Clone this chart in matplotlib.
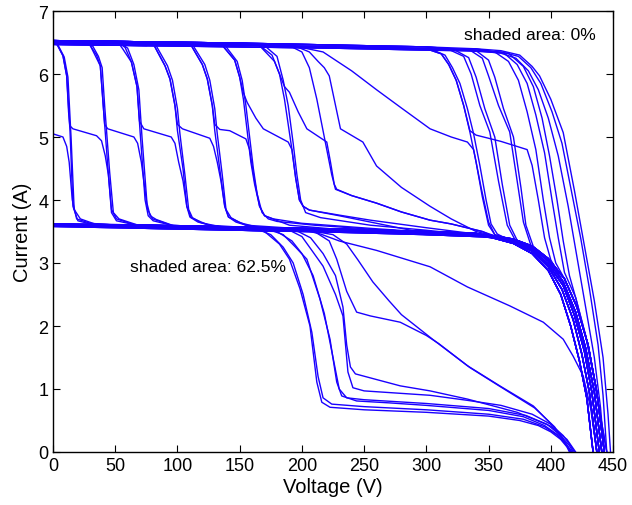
import matplotlib
matplotlib.use("Agg")
import matplotlib.pyplot as plt

plt.rcParams["font.family"] = ["Liberation Sans", "DejaVu Sans"]

# ---------------- I-V data (voltage in V, current in A) ----------------
# plateau of the fully lit modules (three neighbouring traces)
top_v = [0, 75, 150, 225, 300, 340]
top1_i = [6.53, 6.51, 6.49, 6.46, 6.43, 6.40]
top2_i = [6.50, 6.48, 6.46, 6.43, 6.40, 6.38]
top3_i = [6.47, 6.45, 6.43, 6.41, 6.38, 6.36]

# plateau of the shaded modules (three neighbouring traces)
mid_v = [0, 75, 150, 225, 300, 340]
mid1_i = [3.62, 3.60, 3.57, 3.54, 3.50, 3.47]
mid2_i = [3.60, 3.57, 3.54, 3.51, 3.47, 3.44]
mid3_i = [3.58, 3.55, 3.52, 3.49, 3.45, 3.42]

# knee and fall to open circuit of the shaded-plateau traces
tail_a_v = [355, 370, 385, 398, 408, 416, 423, 429, 434]
tail_a_i = [3.39, 3.31, 3.15, 2.88, 2.50, 2.00, 1.45, 0.85, 0.0]
tail_b_v = [355, 370, 385, 398, 409, 418, 425, 431, 437]
tail_b_i = [3.40, 3.33, 3.19, 2.94, 2.58, 2.10, 1.55, 0.95, 0.0]
tail_c_v = [355, 370, 385, 398, 410, 419, 427, 433, 439]
tail_c_i = [3.41, 3.35, 3.22, 2.98, 2.64, 2.17, 1.60, 0.95, 0.0]
tail_d_v = [355, 370, 385, 398, 410, 420, 428, 435, 441]
tail_d_i = [3.42, 3.37, 3.25, 3.03, 2.70, 2.22, 1.65, 0.95, 0.0]
tail_f_v = [355, 370, 385, 398, 411, 421, 430, 437, 443]
tail_f_i = [3.43, 3.38, 3.27, 3.07, 2.75, 2.30, 1.70, 0.95, 0.0]
tail_e_v = [420, 428, 435, 441, 445]
tail_e_i = [2.45, 1.85, 1.15, 0.45, 0.0]

# steps from the lit plateau down to the shaded plateau
d1_v = [0, 3, 8, 11, 13.7, 16, 20, 30]
d1_i = [6.52, 6.48, 6.29, 5.97, 5.08, 3.90, 3.67, 3.62]
d1b_v = [0, 4, 9, 12, 14.5, 17, 22, 35]
d1b_i = [6.49, 6.46, 6.27, 5.95, 5.00, 3.85, 3.70, 3.61]
d2_v = [24, 30, 35, 38, 40, 44, 47, 51, 65]
d2_i = [6.51, 6.45, 6.30, 6.13, 5.60, 4.54, 3.80, 3.67, 3.61]
d2b_v = [26, 32, 36.5, 39.5, 41.5, 45.5, 48.5, 53, 70]
d2b_i = [6.49, 6.44, 6.28, 6.10, 5.50, 4.45, 3.80, 3.70, 3.59]
d3_v = [52, 58, 63, 67.5, 70, 74, 76.5, 80.5, 95]
d3_i = [6.51, 6.42, 6.19, 5.80, 5.08, 4.00, 3.75, 3.67, 3.60]
d3b_v = [54, 60, 65, 69, 71.5, 75.5, 78, 83, 100]
d3b_i = [6.49, 6.41, 6.15, 5.75, 5.00, 3.95, 3.75, 3.69, 3.57]
d4_v = [80, 90, 94, 98, 100, 104.5, 107.5, 110, 116.5, 130]
d4_i = [6.50, 6.13, 5.92, 5.50, 5.10, 4.49, 3.90, 3.73, 3.65, 3.58]
d4b_v = [82, 92, 96, 100, 102, 106, 109, 112, 119, 140]
d4b_i = [6.48, 6.13, 5.90, 5.45, 5.05, 4.40, 3.85, 3.72, 3.64, 3.55]
d5_v = [110, 120, 124, 128, 130, 134, 138, 141, 147, 160]
d5_i = [6.49, 6.15, 5.92, 5.50, 5.10, 4.49, 3.90, 3.73, 3.65, 3.57]
d5b_v = [112, 122, 126, 130, 132, 136, 139, 143, 150, 170]
d5b_i = [6.47, 6.15, 5.90, 5.45, 5.05, 4.40, 3.85, 3.72, 3.64, 3.54]
d6_v = [135, 146, 150, 153, 156, 159, 162, 166, 170, 177, 200, 255, 300]
d6_i = [6.48, 6.22, 5.95, 5.60, 5.10, 4.60, 4.25, 3.90, 3.75, 3.70, 3.63, 3.55, 3.49]
d6b_v = [138, 148, 152, 155, 158, 161, 164, 168, 173, 180, 210, 260]
d6b_i = [6.46, 6.20, 5.90, 5.50, 5.00, 4.50, 4.10, 3.80, 3.70, 3.66, 3.60, 3.53]
d7_v = [165, 176, 182, 186, 189, 192, 195, 198, 201, 206, 230, 255, 300, 340]
d7_i = [6.47, 6.30, 6.00, 5.60, 5.20, 4.80, 4.35, 4.00, 3.90, 3.84, 3.76, 3.68, 3.56, 3.46]
d7b_v = [170, 180, 185, 189, 193, 196, 199, 203, 215, 255, 300]
d7b_i = [6.45, 6.28, 5.90, 5.50, 4.90, 4.40, 4.00, 3.80, 3.72, 3.60, 3.52]
d8_v = [190, 200, 206, 212, 220, 224, 227, 240, 260, 280, 303, 320, 345]
d8_i = [6.45, 6.35, 6.10, 5.60, 4.80, 4.40, 4.17, 4.07, 3.95, 3.81, 3.68, 3.62, 3.50]

# curves with an intermediate shelf near 5 A
s0_v = [0, 8, 11, 13, 15.5, 19, 30]
s0_i = [5.05, 5.00, 4.85, 4.60, 4.00, 3.70, 3.63]
s1_v = [0, 3, 8, 11, 12.5, 13.5, 16, 35, 39, 42, 44.5, 47, 51, 65]
s1_i = [6.52, 6.48, 6.29, 5.97, 5.40, 5.18, 5.13, 5.02, 4.94, 4.70, 4.40, 3.85, 3.70, 3.61]
s2_v = [24, 30, 38, 40, 41.5, 44, 65, 68, 71, 73, 76, 80, 95]
s2_i = [6.51, 6.45, 6.13, 5.60, 5.20, 5.13, 5.00, 4.90, 4.60, 4.30, 3.85, 3.70, 3.60]
s3_v = [52, 56, 63, 67.5, 69.5, 73, 95, 98, 101, 104.5, 107.5, 111, 125]
s3_i = [6.51, 6.40, 6.19, 5.80, 5.25, 5.13, 5.00, 4.90, 4.60, 4.30, 3.90, 3.72, 3.60]
s4_v = [80, 90, 94, 98, 100, 104, 126, 129, 132, 135, 138, 141, 155]
s4_i = [6.50, 6.13, 5.92, 5.50, 5.20, 5.13, 4.98, 4.85, 4.60, 4.30, 3.90, 3.73, 3.60]
s5_v = [110, 120, 124, 128, 130, 134, 142, 155, 158, 162, 166, 170, 190]
s5_i = [6.49, 6.15, 5.92, 5.50, 5.20, 5.12, 5.10, 4.97, 4.80, 4.30, 3.90, 3.75, 3.60]
s6_v = [135, 146, 150, 153, 156, 163, 169, 189, 192, 195, 198, 201, 206, 230]
s6_i = [6.48, 6.22, 5.95, 5.70, 5.55, 5.30, 5.13, 4.92, 4.80, 4.35, 4.00, 3.90, 3.84, 3.75]
s7_v = [165, 178, 186, 190, 197, 204, 220, 223, 226, 228, 240, 260, 280, 303, 320, 345]
s7_i = [6.47, 6.20, 5.80, 5.71, 5.40, 5.13, 4.92, 4.60, 4.25, 4.17, 4.07, 3.95, 3.81, 3.68, 3.62, 3.50]
s8_v = [180, 200, 217, 240, 260, 280, 303, 320, 333, 338, 344, 350, 355]
s8_i = [6.44, 6.42, 6.35, 6.05, 5.75, 5.46, 5.13, 5.00, 4.92, 4.80, 4.20, 3.65, 3.45]
s9_v = [195, 206, 213, 218, 222, 231, 249, 260, 280, 303, 320, 340]
s9_i = [6.44, 6.35, 6.20, 6.10, 5.97, 5.13, 4.92, 4.54, 4.20, 3.90, 3.70, 3.50]
s10_v = [300, 312, 318, 324, 330, 335, 340, 360, 381, 385, 390, 395, 400]
s10_i = [6.40, 6.32, 6.15, 5.90, 5.50, 5.10, 5.03, 4.93, 4.80, 4.55, 4.00, 3.40, 3.05]

# steps near the knee of the shaded plateau
r1_v = [300, 312, 318, 324, 330, 335, 340, 345, 350, 355]
r1_i = [6.40, 6.32, 6.15, 5.90, 5.50, 5.08, 4.60, 4.05, 3.60, 3.45]
r1b_v = [303, 315, 321, 327, 333, 338, 343, 348, 352, 357]
r1b_i = [6.40, 6.30, 6.10, 5.85, 5.45, 5.05, 4.55, 4.00, 3.62, 3.46]
r2_v = [318, 330, 336, 343, 351, 358, 365, 371]
r2_i = [6.39, 6.28, 6.00, 5.50, 5.08, 4.30, 3.60, 3.38]
r2b_v = [322, 334, 340, 347, 355, 361, 367, 373]
r2b_i = [6.39, 6.26, 5.95, 5.45, 5.00, 4.25, 3.60, 3.36]
r3_v = [335, 345, 350, 358, 367, 373, 378, 384]
r3_i = [6.38, 6.25, 5.97, 5.50, 5.08, 4.30, 3.65, 3.28]
r3b_v = [340, 350, 355, 362, 370, 376, 380, 386]
r3b_i = [6.37, 6.22, 5.95, 5.45, 5.00, 4.20, 3.60, 3.26]
r4_v = [355, 366, 374, 381, 388, 394, 399, 404]
r4_i = [6.35, 6.20, 5.90, 5.40, 4.80, 4.00, 3.40, 3.00]
r5_v = [362, 373, 381, 388, 395, 401, 406, 411]
r5_i = [6.34, 6.15, 5.85, 5.35, 4.75, 4.00, 3.40, 2.85]
r6_v = [366, 378, 386, 393, 399, 405, 410, 415]
r6_i = [6.33, 6.12, 5.80, 5.30, 4.70, 4.00, 3.35, 2.80]

# unshaded array: lit plateau straight down to open circuit
u1_v = [340, 360, 372, 382, 390, 398, 406, 414, 421, 428, 435, 440, 443]
u1_i = [6.37, 6.33, 6.25, 6.05, 5.75, 5.30, 4.70, 3.90, 3.10, 2.30, 1.50, 0.70, 0.0]
u2_v = [340, 360, 374, 384, 392, 401, 409, 417, 424, 431, 438, 442, 445]
u2_i = [6.38, 6.35, 6.28, 6.10, 5.85, 5.40, 4.90, 4.10, 3.40, 2.60, 1.70, 0.90, 0.0]
u3_v = [340, 360, 375, 385, 391, 400, 410, 419, 427.5, 435, 442, 446, 448]
u3_i = [6.40, 6.37, 6.30, 6.12, 5.97, 5.60, 5.07, 4.15, 3.22, 2.40, 1.50, 0.60, 0.0]

# 62.5 % shaded: shaded plateau falling to a low plateau
l1_v = [160, 170, 182, 190, 198.5, 206.5, 212, 216, 222.6, 250, 300, 350, 375, 390, 400, 408, 413, 415]
l1_i = [3.55, 3.50, 3.30, 3.06, 2.59, 2.00, 1.11, 0.79, 0.71, 0.67, 0.63, 0.57, 0.50, 0.42, 0.32, 0.20, 0.08, 0.0]
l1b_v = [165, 175, 185, 193, 201, 208, 213, 217, 224, 250, 300, 350, 378, 395, 405, 412, 416]
l1b_i = [3.53, 3.45, 3.25, 3.00, 2.50, 1.90, 1.20, 0.86, 0.76, 0.72, 0.67, 0.60, 0.52, 0.40, 0.27, 0.12, 0.0]
l2_v = [175, 185, 195, 204, 214.5, 222.6, 228, 232, 244, 270, 300, 350, 378, 395, 405, 412, 417]
l2_i = [3.52, 3.45, 3.25, 3.06, 2.43, 1.79, 1.11, 0.89, 0.81, 0.78, 0.74, 0.66, 0.56, 0.42, 0.28, 0.13, 0.0]
l2b_v = [180, 192, 200, 209, 218, 225, 230, 236, 250, 300, 350, 380, 397, 408, 415, 418]
l2b_i = [3.50, 3.35, 3.15, 2.80, 2.20, 1.50, 1.00, 0.86, 0.83, 0.77, 0.69, 0.58, 0.44, 0.26, 0.10, 0.0]
l3_v = [190, 200, 208, 217, 227, 233, 237, 241, 250, 303, 333, 360, 385, 400, 410, 416, 419]
l3_i = [3.52, 3.42, 3.20, 2.95, 2.50, 2.16, 1.27, 1.02, 0.97, 0.90, 0.82, 0.74, 0.60, 0.44, 0.26, 0.10, 0.0]
l4_v = [195, 207, 217, 227, 233, 236, 239, 243, 260, 279, 303, 333, 373, 400, 413, 420]
l4_i = [3.52, 3.40, 3.15, 2.80, 2.30, 1.70, 1.35, 1.24, 1.15, 1.05, 0.97, 0.84, 0.63, 0.41, 0.20, 0.0]
ta_v = [200, 215, 230, 260, 303, 333, 367, 394, 410, 418, 426, 432, 437]
ta_i = [3.53, 3.46, 3.35, 3.20, 2.94, 2.62, 2.32, 2.06, 1.79, 1.52, 1.21, 0.70, 0.0]
tb_v = [205, 225, 236, 245, 257, 270, 280, 305, 333, 359, 386, 402, 413, 416]
tb_i = [3.52, 3.45, 3.30, 3.05, 2.70, 2.40, 2.18, 1.79, 1.37, 1.05, 0.73, 0.41, 0.10, 0.0]
tc_v = [210, 222, 228, 236, 244, 255, 279, 300, 310, 335, 360, 387, 403, 414, 417]
tc_i = [3.50, 3.35, 3.06, 2.55, 2.22, 2.16, 2.06, 1.85, 1.72, 1.34, 1.03, 0.70, 0.40, 0.08, 0.0]

heads = {"t1": (top_v, top1_i), "t2": (top_v, top2_i), "t3": (top_v, top3_i),
         "m1": (mid_v, mid1_i), "m2": (mid_v, mid2_i), "m3": (mid_v, mid3_i)}
tails = {"a": (tail_a_v, tail_a_i), "b": (tail_b_v, tail_b_i), "c": (tail_c_v, tail_c_i),
         "d": (tail_d_v, tail_d_i), "f": (tail_f_v, tail_f_i), "e": (tail_e_v, tail_e_i),
         None: ([], [])}

# (head plateau, knee/step, plateau after step, tail)
upper_traces = [
    ("t1", d1_v, d1_i, "m1", "a"), ("t2", d1b_v, d1b_i, "m2", "b"),
    ("t1", d2_v, d2_i, "m1", "c"), ("t3", d2b_v, d2b_i, "m3", "d"),
    ("t2", d3_v, d3_i, "m2", "f"), ("t1", d3b_v, d3b_i, "m1", "a"),
    ("t1", d4_v, d4_i, "m1", "b"), ("t3", d4b_v, d4b_i, "m3", "c"),
    ("t2", d5_v, d5_i, "m2", "d"), ("t1", d5b_v, d5b_i, "m1", "f"),
    ("t1", d6_v, d6_i, "m2", "a"), ("t3", d6b_v, d6b_i, "m3", "b"),
    ("t2", d7_v, d7_i, "m1", "c"), ("t1", d7b_v, d7b_i, "m2", "d"),
    ("t1", d8_v, d8_i, "m1", "f"),
    ("t2", s0_v, s0_i, "m2", "a"), ("t1", s1_v, s1_i, "m1", "b"),
    ("t2", s2_v, s2_i, "m2", "c"), ("t1", s3_v, s3_i, "m1", "d"),
    ("t2", s4_v, s4_i, "m2", "f"), ("t1", s5_v, s5_i, "m1", "a"),
    ("t2", s6_v, s6_i, "m2", "b"), ("t1", s7_v, s7_i, "m1", "c"),
    ("t2", s8_v, s8_i, "m2", "d"), ("t1", s9_v, s9_i, "m1", "f"),
    ("t2", s10_v, s10_i, "m2", "d"),
    ("t1", r1_v, r1_i, "m1", "a"), ("t2", r1b_v, r1b_i, "m2", "b"),
    ("t1", r2_v, r2_i, "m1", "c"), ("t3", r2b_v, r2b_i, "m3", "d"),
    ("t1", r3_v, r3_i, "m1", "f"), ("t2", r3b_v, r3b_i, "m2", "f"),
    ("t1", r4_v, r4_i, "m1", "f"), ("t2", r5_v, r5_i, "m2", "e"),
    ("t3", r6_v, r6_i, "m3", "e"),
    ("t1", u1_v, u1_i, "m1", None), ("t2", u2_v, u2_i, "m2", None),
    ("t3", u3_v, u3_i, "m3", None),
]
# traces staying on the shaded plateau for the whole sweep
plain_traces = [("m1", "a"), ("m2", "b"), ("m3", "c"), ("m2", "d"), ("m1", "f")]
lower_traces = [
    ("m1", l1_v, l1_i), ("m2", l1b_v, l1b_i), ("m1", l2_v, l2_i), ("m3", l2b_v, l2b_i),
    ("m2", l3_v, l3_i), ("m1", l4_v, l4_i), ("m2", ta_v, ta_i), ("m1", tb_v, tb_i),
    ("m3", tc_v, tc_i),
]


def assemble(head, knee_v, knee_i, after=None, tail=None):
    hv, hi = heads[head]
    v = [x for x in hv if x < knee_v[0]]
    i = [y for x, y in zip(hv, hi) if x < knee_v[0]]
    v += list(knee_v)
    i += list(knee_i)
    if after is not None:
        av, ai = heads[after]
        tv, ti = tails[tail]
        for x, y in list(zip(av, ai)) + list(zip(tv, ti)):
            if x > v[-1]:
                v.append(x)
                i.append(y)
    return v, i


fig = plt.figure(figsize=(6.32, 5.06), dpi=100)
ax = fig.add_axes([53 / 632, 53 / 506, 560 / 632, 441 / 506])

color = "#1a00ff"
lw = 1.0
for head, kv, ki, after, tail in upper_traces:
    v, i = assemble(head, kv, ki, after, tail)
    ax.plot(v, i, color=color, lw=lw)
for head, tail in plain_traces:
    hv, hi = heads[head]
    tv, ti = tails[tail]
    ax.plot(list(hv) + list(tv), list(hi) + list(ti), color=color, lw=lw)
for head, kv, ki in lower_traces:
    v, i = assemble(head, kv, ki)
    ax.plot(v, i, color=color, lw=lw)

ax.set_xlim(0, 450)
ax.set_ylim(0, 7)
ax.set_xticks(range(0, 451, 50))
ax.set_yticks(range(0, 8))
ax.tick_params(direction="in", top=True, right=True, length=5, labelsize=13)
for s in ax.spines.values():
    s.set_linewidth(1.0)
ax.set_xlabel("Voltage (V)", fontsize=14.5, labelpad=2)
ax.set_ylabel("Current (A)", fontsize=14.5, labelpad=4)

ax.text(330, 6.63, "shaded area: 0%", fontsize=12.5, va="center")
ax.text(62, 2.94, "shaded area: 62.5%", fontsize=12.5, va="center")

fig.savefig("out.png", dpi=100)
